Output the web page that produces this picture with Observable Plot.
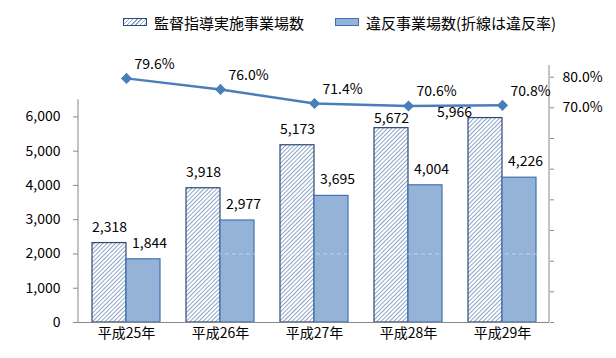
<!DOCTYPE html>
<html><head><meta charset="utf-8">
<script src="https://cdn.jsdelivr.net/npm/d3@7"></script>
<script src="https://cdn.jsdelivr.net/npm/@observablehq/plot@0.6"></script>
<style>
body{margin:0;background:#fff;font-family:'Noto Sans CJK JP',sans-serif;}
#legend{position:relative;height:40px;width:616px;}
.item{position:absolute;top:2px;height:40px;display:flex;align-items:center;font-size:15px;color:#000;white-space:nowrap;}
.sw{width:24px;height:8px;box-sizing:border-box;margin-right:7px;}
#chart svg{display:block;}
</style></head><body>
<div id="legend"></div><div id="chart"></div>
<script>
// ---- data ----
const years = ["平成25年","平成26年","平成27年","平成28年","平成29年"];
const supervised = [2318, 3918, 5173, 5672, 5966];
const violations = [1844, 2977, 3695, 4004, 4226];
const rates = [0.796, 0.760, 0.714, 0.706, 0.708];
const seriesNames = ["監督指導実施事業場数", "違反事業場数(折線は違反率)"];
const leftTicks = [0, 1000, 2000, 3000, 4000, 5000, 6000];
const rightTicks = [0, 0.1, 0.2, 0.3, 0.4, 0.5, 0.6, 0.7, 0.8];
const rightLabeled = [0.7, 0.8];

// ---- layout / style ----
const W = 616, H = 318;
const mL = 78, mR = 67, mT = 25, mB = 36;
const yMax = 7500, leftAxisTop = 6500;
const K = 8950; // left-axis units per 100% on the right axis
const pI = 0.278, pO = pI / 2;
const step = (W - mL - mR) / years.length;
const bw = step * (1 - pI);
const AXIS = "#888888";
const LINE = "#4A7EBB";
const HATCH_STROKE = "#2C4A78";
const SOLID_FILL = "#95B3D7", SOLID_STROKE = "#3F72B5";
const FONT = "'Noto Sans CJK JP', sans-serif";

const data = years.map((y, i) => ({year: y, supervised: supervised[i], violations: violations[i], rate: rates[i]}));

// legend
const legend = document.getElementById("legend");
[[123, "hatch"], [335, "solid"]].forEach(([left, kind], i) => {
  const it = document.createElement("div");
  it.className = "item"; it.style.left = left + "px";
  const sw = document.createElement("div"); sw.className = "sw";
  if (kind === "hatch") {
    sw.style.background = "repeating-linear-gradient(135deg, #8EA5C7 0 1px, #fff 1px 3px)";
    sw.style.border = "1px solid " + HATCH_STROKE;
  } else {
    sw.style.background = SOLID_FILL;
    sw.style.border = "1px solid " + SOLID_STROKE;
  }
  it.appendChild(sw);
  const t = document.createElement("span"); t.textContent = seriesNames[i];
  it.appendChild(t);
  legend.appendChild(it);
});

const fmt = d3.format(",");
const pct = d3.format(".1%");

const plot = Plot.plot({
  width: W, height: H,
  marginLeft: mL, marginRight: mR, marginTop: mT, marginBottom: mB,
  style: {fontFamily: FONT, fontSize: "14px", color: "#000", background: "white", overflow: "visible"},
  x: {domain: years, paddingInner: pI, paddingOuter: pO, axis: null},
  y: {domain: [0, yMax], axis: null},
  marks: [
    (index, {y}, values, dims) => {
      const g = d3.create("svg:g");
      const defs = g.append("defs");
      const p = defs.append("pattern").attr("id", "hatch").attr("width", 3).attr("height", 3)
        .attr("patternUnits", "userSpaceOnUse").attr("patternTransform", "rotate(45)");
      p.append("rect").attr("width", 3).attr("height", 3).attr("fill", "#fff");
      p.append("line").attr("x1", 0.5).attr("x2", 0.5).attr("y1", 0).attr("y2", 3)
        .attr("stroke", "#8EA5C7").attr("stroke-width", 1);
      const xl = dims.marginLeft, xr = dims.width - dims.marginRight;
      g.append("line").attr("x1", xl).attr("x2", xl).attr("y1", y(0)).attr("y2", y(leftAxisTop)).attr("stroke", AXIS);
      g.append("line").attr("x1", xr).attr("x2", xr).attr("y1", y(0)).attr("y2", y(yMax)).attr("stroke", AXIS);
      return g.node();
    },
    Plot.barY(data, {x: "year", y: "supervised", fill: "url(#hatch)", stroke: HATCH_STROKE, strokeWidth: 1.2, insetRight: bw / 2}),
    Plot.barY(data, {x: "year", y: "violations", fill: SOLID_FILL, stroke: SOLID_STROKE, strokeWidth: 1.2, insetLeft: bw / 2}),
    Plot.ruleY([2000], {stroke: "#fff", strokeDasharray: "4,3", strokeOpacity: 0.45}),
    Plot.ruleY([0], {stroke: AXIS, strokeWidth: 1.2}),
    Plot.axisY(leftTicks, {anchor: "left", tickSize: 5, tickPadding: 13, tickFormat: fmt, stroke: AXIS, fill: "#000", fontSize: 14, label: null}),
    Plot.axisY(rightTicks.map(r => r * K), {anchor: "right", tickSize: 4, tickPadding: 9, stroke: AXIS, fill: "#000", fontSize: 14, label: null,
      tickFormat: v => rightLabeled.some(r => Math.abs(r * K - v) < 1e-6) ? pct(v / K) : ""}),
    Plot.axisX({tickSize: 0, tickPadding: 6, fontSize: 14, fill: "#000", label: null}),
    // value labels
    Plot.text(data.filter((d, i) => i < 3), {x: "year", y: "supervised", text: d => fmt(d.supervised), dx: -bw / 4, dy: -16, lineAnchor: "middle", fontSize: 14, fill: "#000"}),
    Plot.text(data.filter((d, i) => i === 3), {x: "year", y: "supervised", text: d => fmt(d.supervised), dx: -bw / 4, dy: -10, lineAnchor: "middle", fontSize: 14, fill: "#000"}),
    Plot.text(data.filter((d, i) => i === 4), {x: "year", y: "supervised", text: d => fmt(d.supervised), dx: -bw / 4 - 31, dy: -6, lineAnchor: "middle", fontSize: 14, fill: "#000"}),
    Plot.text(data, {x: "year", y: "violations", text: d => fmt(d.violations), dx: bw / 4 + 6, dy: -16, lineAnchor: "middle", fontSize: 14, fill: "#000"}),
    // rate line
    Plot.line(data, {x: "year", y: d => d.rate * K, stroke: LINE, strokeWidth: 2.5}),
    Plot.dot(data, {x: "year", y: d => d.rate * K, symbol: "square", r: 3.6, rotate: 45, fill: LINE, stroke: LINE}),
    Plot.text(data, {x: "year", y: d => d.rate * K, text: d => pct(d.rate), dx: 28, dy: -14, lineAnchor: "middle", fontSize: 14, fill: "#000"})
  ]
});
document.getElementById("chart").appendChild(plot);
</script></body></html>
